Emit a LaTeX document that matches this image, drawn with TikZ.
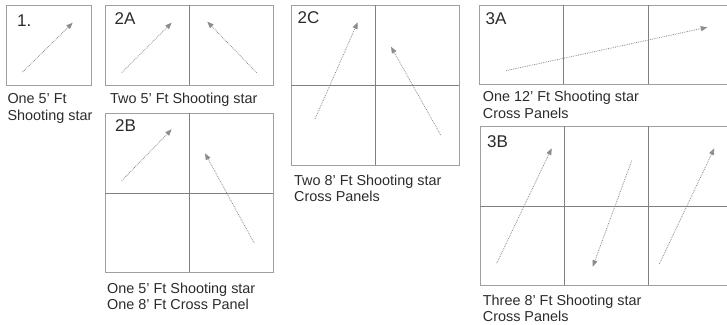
\documentclass[tikz,border=0pt]{standalone}
\usepackage{fontspec}
\setmainfont{Liberation Sans}
\usetikzlibrary{arrows.meta}
\definecolor{framegray}{HTML}{A0A0A0}
\definecolor{divgray}{HTML}{808080}
\definecolor{arrowgray}{HTML}{8C8C8C}
\definecolor{txt}{HTML}{2B2B2B}
\begin{document}
\begin{tikzpicture}[x=1pt,y=-1pt,
 panelframe/.style={draw=framegray,line width=1pt},
 paneldiv/.style={draw=divgray,line width=1pt},
 shootarrow/.style={draw=arrowgray,line width=0.8pt,densely dotted,-{Triangle[width=5pt,length=6.5pt]}},
 paneltag/.style={anchor=base west,inner sep=0pt,font=\fontsize{17}{19}\selectfont,text=txt},
 captext/.style={anchor=base west,inner sep=0pt,font=\fontsize{14.4}{16.5}\selectfont,text=txt}]
\useasboundingbox (0,0) rectangle (727,324);
\clip (0,0) rectangle (727,324);

% ---- Panel 1
\draw[panelframe] (6,5) rectangle (91,85);
\node[paneltag] (t1) at (17,26) {1.};
\coordinate (a1s) at (22.7,72);
\coordinate (a1e) at (72.7,22.7);
\draw[shootarrow] (a1s) -- (a1e);
\node[captext] (c1a) at (7.3,103.3) {One 5’ Ft};
\node[captext] (c1b) at (7.3,120) {Shooting star};

% ---- Panel 2A
\draw[panelframe] (105,5) rectangle (273,85);
\draw[paneldiv] (189,5) -- (189,85);
\node[paneltag] (t2a) at (114.5,24.5) {2A};
\coordinate (a2s) at (121.7,72.7);
\coordinate (a2e) at (171.7,22.7);
\draw[shootarrow] (a2s) -- (a2e);
\coordinate (a3s) at (256.7,72.7);
\coordinate (a3e) at (207.3,21.7);
\draw[shootarrow] (a3s) -- (a3e);
\node[captext] (c2a) at (110,103.3) {Two 5’ Ft Shooting star};

% ---- Panel 2B
\draw[panelframe] (105,113) rectangle (273,272);
\draw[paneldiv] (189,113) -- (189,272);
\draw[paneldiv] (105,193) -- (273,193);
\node[paneltag] (t2b) at (115,131.5) {2B};
\coordinate (b1s) at (121.7,180.7);
\coordinate (b1e) at (171.7,129.3);
\draw[shootarrow] (b1s) -- (b1e);
\coordinate (b2s) at (254.3,243.3);
\coordinate (b2e) at (205,153.3);
\draw[shootarrow] (b2s) -- (b2e);
\node[captext] (c2b1) at (107,293.3) {One 5’ Ft Shooting star};
\node[captext] (c2b2) at (107,309.5) {One 8’ Ft Cross Panel};

% ---- Panel 2C
\draw[panelframe] (291,5) rectangle (459,165);
\draw[paneldiv] (375,5) -- (375,165);
\draw[paneldiv] (291,85) -- (459,85);
\node[paneltag] (t2c) at (297.5,23.5) {2C};
\coordinate (c1s) at (315,119);
\coordinate (c1e) at (357.7,22.3);
\draw[shootarrow] (c1s) -- (c1e);
\coordinate (c2s) at (440.7,135);
\coordinate (c2e) at (391,46.7);
\draw[shootarrow] (c2s) -- (c2e);
\node[captext] (c2c1) at (294,185) {Two 8’ Ft Shooting star};
\node[captext] (c2c2) at (294,201.7) {Cross Panels};

% ---- Panel 3A
\draw[panelframe] (479.5,5) rectangle (740,84);
\draw[paneldiv] (563.5,5) -- (563.5,84);
\draw[paneldiv] (648,5) -- (648,84);
\node[paneltag] (t3a) at (485.5,24.5) {3A};
\coordinate (d1s) at (506,70.7);
\coordinate (d1e) at (707.3,27.3);
\draw[shootarrow] (d1s) -- (d1e);
\node[captext] (c3a1) at (482.7,101.7) {One 12’ Ft Shooting star};
\node[captext] (c3a2) at (482.7,118.3) {Cross Panels};

% ---- Panel 3B
\draw[panelframe] (480,126) rectangle (740,285);
\draw[paneldiv] (564.5,126) -- (564.5,285);
\draw[paneldiv] (648.5,126) -- (648.5,285);
\draw[paneldiv] (480,206) -- (740,206);
\node[paneltag] (t3b) at (487,147) {3B};
\coordinate (e1s) at (496.7,263.3);
\coordinate (e1e) at (551.7,148.3);
\draw[shootarrow] (e1s) -- (e1e);
\coordinate (e2s) at (631.7,160.7);
\coordinate (e2e) at (592.7,266.7);
\draw[shootarrow] (e2s) -- (e2e);
\coordinate (e3s) at (659.3,264);
\coordinate (e3e) at (714.3,148.3);
\draw[shootarrow] (e3s) -- (e3e);
\node[captext] (c3b1) at (482.7,305) {Three 8’ Ft Shooting star};
\node[captext] (c3b2) at (482.7,321.7) {Cross Panels};
\end{tikzpicture}
\end{document}
